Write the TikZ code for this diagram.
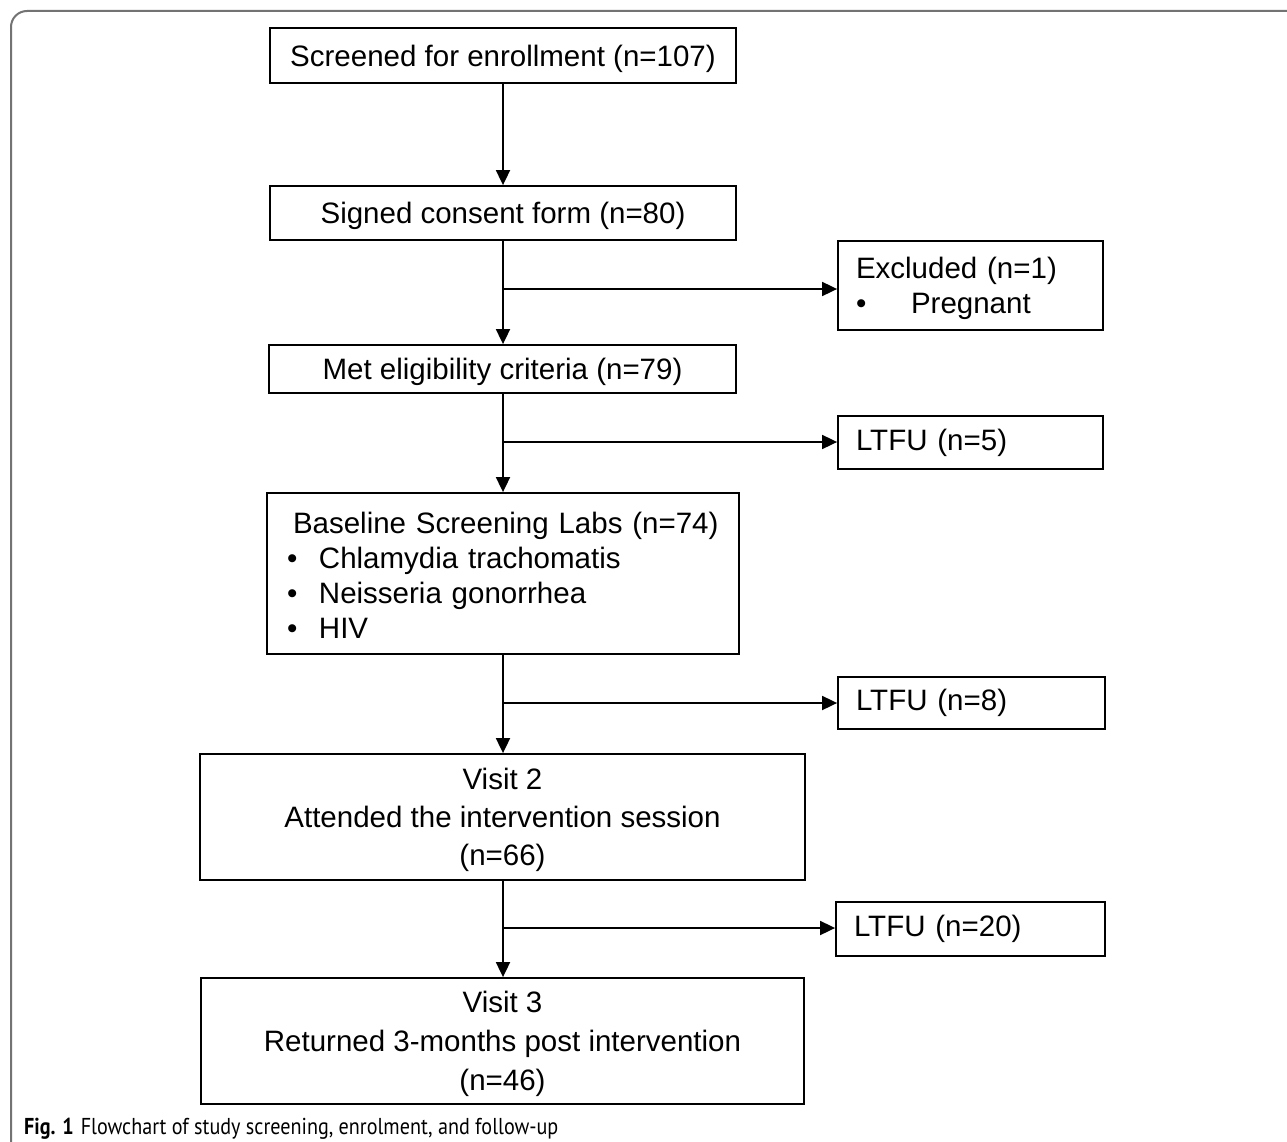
\documentclass[tikz,border=0pt]{standalone}
\usepackage{fontspec}
\setmainfont{Liberation Sans}
\newfontfamily\capfont{PT Sans}
\usetikzlibrary{arrows.meta}
\begin{document}
\begin{tikzpicture}[x=1pt,y=-1pt,
  base/.style={draw=black, line width=1.8pt, inner sep=0pt, font=\fontsize{29.5}{35}\selectfont},
  box/.style={base, text depth=0pt},
  leftbox/.style={base, align=left, inner xsep=18pt},
  visit/.style={box, align=center, font=\fontsize{29.5}{38}\selectfont},
  arr/.style={line width=1.8pt, -{Triangle[length=15pt,width=14pt]}},
  frame/.style={line width=2pt, draw=black!55, rounded corners=16pt}]
\useasboundingbox (0,0) rectangle (1287,1142);
\fill[white] (0,0) rectangle (1287,1142);
\draw[frame] (11,1150) -- (11,11) -- (1295,11);

\node[box, minimum width=466, minimum height=55] (b1) at (503,55.5) {Screened for enrollment (n=107)};
\node[box, minimum width=466, minimum height=54] (b2) at (503,213) {Signed consent form (n=80)};
\node[leftbox, text width=229pt, minimum height=89, text height=27.5pt] (excl) at (970.5,285.5) {Excluded (n=1)\\\makebox[55pt][l]{•}Pregnant};
\node[box, minimum width=467, minimum height=48] (b3) at (502.5,369) {Met eligibility criteria (n=79)};
\node[leftbox, text width=229pt, minimum height=53] (l5) at (970.5,442.5) {LTFU (n=5)};
\node[leftbox, inner xsep=20pt, text width=432pt, minimum height=161, text height=25.5pt] (b4) at (503,573.5)
  {\hspace*{6pt}Baseline Screening Labs (n=74)\\
   \makebox[32pt][l]{•}Chlamydia trachomatis\\
   \makebox[32pt][l]{•}Neisseria gonorrhea\\
   \makebox[32pt][l]{•}HIV};
\node[leftbox, text width=231pt, minimum height=52] (l8) at (971.5,703) {LTFU (n=8)};
\node[visit, minimum width=605, minimum height=126] (b5) at (502.5,817) {Visit 2\\Attended the intervention session\\(n=66)};
\node[leftbox, text width=233pt, minimum height=54] (l20) at (970.5,929) {LTFU (n=20)};
\node[visit, minimum width=603, minimum height=126, font=\fontsize{29.5}{39}\selectfont] (b6) at (502.5,1041) {Visit 3\\Returned 3-months post intervention\\(n=46)};

\coordinate (j1) at (503,289);
\coordinate (j2) at (503,442);
\coordinate (j3) at (503,703);
\coordinate (j4) at (503,928);

\draw[arr] (b1.south) -- (b2.north);
\draw[arr] (b2.south) -- (j1 |- b3.north);
\draw[arr] (j1) -- (j1 -| excl.west);
\draw[arr] (j2 |- b3.south) -- (j2 |- b4.north);
\draw[arr] (j2) -- (j2 -| l5.west);
\draw[arr] (b4.south) -- (j3 |- b5.north);
\draw[arr] (j3) -- (j3 -| l8.west);
\draw[arr] (j4 |- b5.south) -- (j4 |- b6.north);
\draw[arr] (j4) -- (j4 -| l20.west);

\node[anchor=base west, inner sep=0pt, font=\capfont\fontsize{23}{27}\selectfont] (cap) at (24,1134)
  {\scalebox{0.875}[1]{\textbf{Fig. 1}\hspace{8pt}Flowchart of study screening, enrolment, and follow-up}};
\end{tikzpicture}
\end{document}
